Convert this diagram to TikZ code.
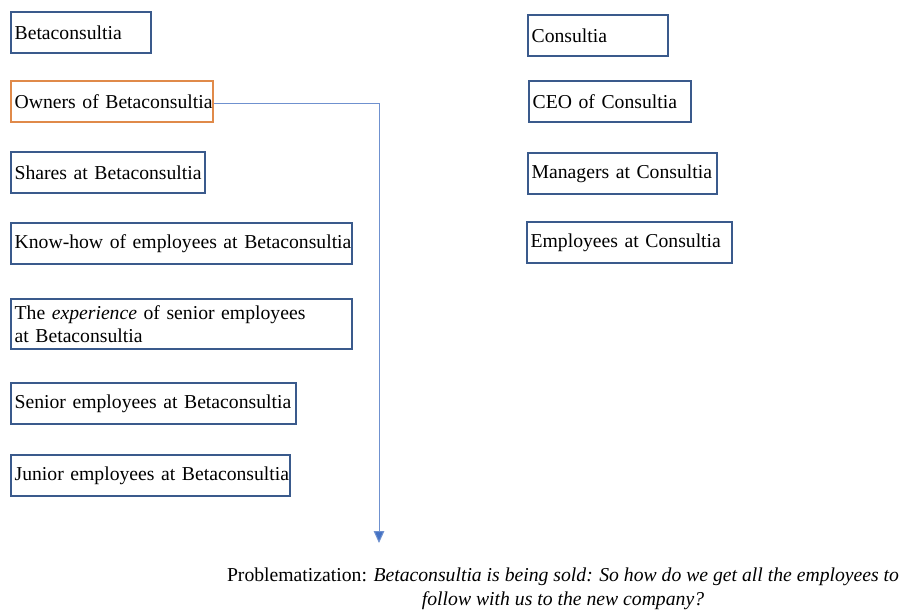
\documentclass[tikz,border=0pt]{standalone}
\usepackage{fontspec}
\setmainfont{Liberation Serif}
\usetikzlibrary{arrows.meta}

\begin{document}
\begin{tikzpicture}[x=0.025cm, y=-0.025cm,
    box/.style={draw=boxblue, line width=1.6pt, anchor=north west, align=left,
      inner xsep=2.5pt, inner ysep=2pt, minimum height=1.025cm,
      font=\fontsize{14}{16.4}\selectfont},
    conn/.style={draw=lineblue, line width=0.7pt,
      -{Triangle[width=7.5pt, length=8.5pt, fill=tipblue]}}]

  % --- Farben ---
  \definecolor{boxblue}{HTML}{3A5A8C}  % Rahmen
  \definecolor{ownorange}{HTML}{E08A4A} % Eigentuemer
  \definecolor{lineblue}{HTML}{6F91CF} % Pfeil
  \definecolor{tipblue}{HTML}{4472C4}

  % --- Rahmen (Pixelmass 903 x 611) ---
  \useasboundingbox (0,0) rectangle (903,611);

  % --- Betaconsultia (links) ---
  \node[box, text width=3.325cm]  (beta)    at (10,11)  {\mbox{Betaconsultia}};
  \node[box, text width=4.875cm, draw=ownorange] (owners) at (10,80) {\mbox{Owners of Betaconsultia}};
  \node[box, text width=4.675cm]  (shares)  at (10,151) {\mbox{Shares at Betaconsultia}};
  \node[box, text width=8.35cm]   (knowhow) at (10,222) {\mbox{Know-how of employees at Betaconsultia}};
  \node[box, text width=8.35cm, minimum height=1.25cm] (experience) at (10,298)
    {\mbox{The \textit{experience} of senior employees}\\\mbox{at Betaconsultia}};
  \node[box, text width=6.95cm]   (senior)  at (10,382) {\mbox{Senior employees at Betaconsultia}};
  \node[box, text width=6.8cm]    (junior)  at (10,454) {\mbox{Junior employees at Betaconsultia}};

  % --- Consultia (rechts) ---
  \node[box, text width=3.325cm]  (consultia) at (527,14)  {\mbox{Consultia}};
  \node[box, text width=3.875cm]  (ceo)       at (528,80)  {\mbox{CEO of Consultia}};
  \node[box, text width=4.55cm]   (managers)  at (527,152) {\mbox{Managers at Consultia}};
  \node[box, text width=4.95cm]   (employees) at (526,221) {\mbox{Employees at Consultia}};

  % --- Pfeil ---
  \coordinate (tip) at (379,543);
  \draw[conn] ([yshift=-1.5pt]owners.east) -| (tip);

  % --- Problematisierung ---
  \node[align=center, font=\fontsize{14}{17}\selectfont] (problem) at (563,589)
    {Problematization: \textit{Betaconsultia is being sold: So how do we get all the employees to}\\
     \textit{follow with us to the new company?}};

\end{tikzpicture}
\end{document}
